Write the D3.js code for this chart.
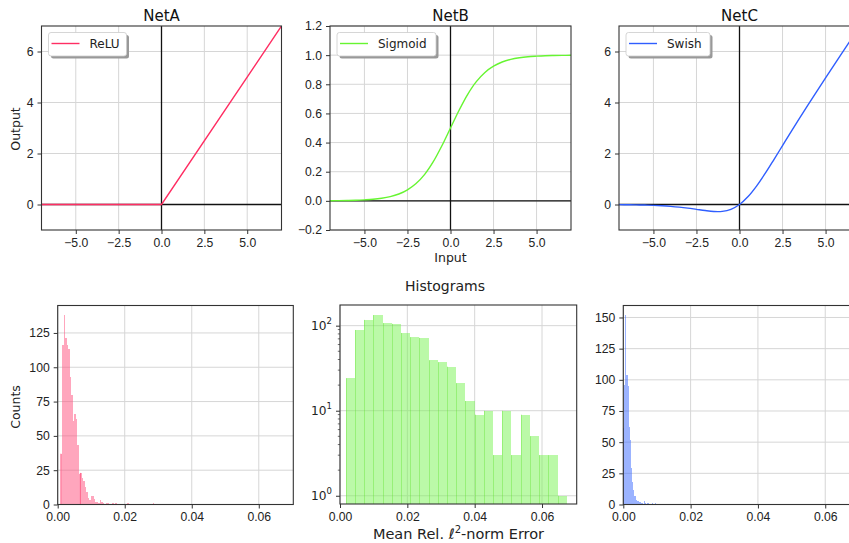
<!DOCTYPE html>
<html>
<head>
<meta charset="utf-8">
<script src="https://cdn.jsdelivr.net/npm/d3@7"></script>
<style>
  body { margin: 0; background: #fff; }
  svg { display: block; font-family: "DejaVu Sans", sans-serif; }
  .tick text { font-size: 12.2px; fill: #222; }
  .tick line { stroke: #333; }
  .domain { display: none; }
</style>
</head>
<body>
<div id="chart"></div>
<script>
// activation curves, values
const reluX = [-7, 0, 7];
const reluY = [0, 0, 7];
const sigX = [-7, -6.5, -6, -5.5, -5, -4.5, -4, -3.5, -3, -2.5, -2, -1.5, -1, -0.5, 0,
  0.5, 1, 1.5, 2, 2.5, 3, 3.5, 4, 4.5, 5, 5.5, 6, 6.5, 7];
const sigY = [0.001, 0.0015, 0.0025, 0.004, 0.007, 0.011, 0.018, 0.029, 0.047, 0.076, 0.119, 0.182, 0.269, 0.378, 0.5,
  0.622, 0.731, 0.818, 0.881, 0.924, 0.953, 0.971, 0.982, 0.989, 0.993, 0.996, 0.9975, 0.9985, 0.999];
const swishX = [-7, -6.5, -6, -5.5, -5, -4.5, -4, -3.5, -3, -2.5, -2, -1.5, -1, -0.5, 0,
  0.5, 1, 1.5, 2, 2.5, 3, 3.5, 4, 4.5, 5, 5.5, 6, 6.5, 7];
const swishY = [-0.006, -0.01, -0.015, -0.022, -0.034, -0.05, -0.072, -0.102, -0.142, -0.19, -0.238, -0.274, -0.269, -0.189, 0,
  0.311, 0.731, 1.226, 1.762, 2.31, 2.858, 3.398, 3.928, 4.45, 4.967, 5.478, 5.985, 6.49, 6.994];

// histogram counts (bin start, bin width, counts per bin)
const histAStart = 0.0009, histAWidth = 0.00045;
const histACounts = [37, 116, 138, 121, 116, 113, 93, 80, 61, 66, 62, 43, 22, 23, 19, 17, 13, 9, 5, 3,
  6, 6, 4, 2, 2, 1, 3, 2, 1, 0, 1, 1, 0, 0, 1, 0, 1, 0, 0, 0, 0, 0, 0, 0, 1, 0, 0, 0, 0, 0,
  0, 0, 0, 0, 0, 0, 0, 0, 0, 0, 0, 1];
const histBStart = 0.0017, histBWidth = 0.002735;
const histBCounts = [24, 89, 117, 133, 107, 105, 82, 73, 72, 39, 37, 33, 21, 13, 9, 10, 3, 10, 3, 9, 5, 3, 3, 1];
const histCStart = 0.00005, histCWidth = 0.0003;
const histCCounts = [61, 96, 152, 104, 95, 62, 52, 29, 18, 12, 7, 7, 4, 3, 3, 2, 2, 1, 1, 0,
  3, 1, 0, 1, 1, 0, 0, 0, 1, 0, 0, 1];

const lineTicksX = [-5, -2.5, 0, 2.5, 5];
const histTicksX = [0, 0.02, 0.04, 0.06];

const W = 849, H = 543;
const svg = d3.select("#chart").append("svg").attr("width", W).attr("height", H);
svg.append("rect").attr("width", W).attr("height", H).attr("fill", "#fff");

let clipId = 0;

function frame(g, x0, x1, y0, y1) {
  g.append("rect")
    .attr("x", x0).attr("y", y0).attr("width", x1 - x0).attr("height", y1 - y0)
    .attr("fill", "none").attr("stroke", "#333").attr("stroke-width", 1.1);
}

function grid(g, x, y, xt, yt, x0, x1, y0, y1) {
  xt.forEach(t => g.append("line").attr("x1", x(t)).attr("x2", x(t)).attr("y1", y0).attr("y2", y1)
    .attr("stroke", "#d6d6d6").attr("stroke-width", 1));
  yt.forEach(t => g.append("line").attr("y1", y(t)).attr("y2", y(t)).attr("x1", x0).attr("x2", x1)
    .attr("stroke", "#d6d6d6").attr("stroke-width", 1));
}

function linePanel(o) {
  const g = svg.append("g");
  const x = d3.scaleLinear().domain([-7, 7]).range([o.x0, o.x1]);
  const y = d3.scaleLinear().domain(o.yDomain).range([o.y1, o.y0]);
  const id = "clip" + (clipId++);
  g.append("clipPath").attr("id", id).append("rect")
    .attr("x", o.x0).attr("y", o.y0).attr("width", o.x1 - o.x0).attr("height", o.y1 - o.y0);

  grid(g, x, y, lineTicksX, o.yTicks, o.x0, o.x1, o.y0, o.y1);

  const inner = g.append("g").attr("clip-path", `url(#${id})`);
  inner.append("line").attr("x1", o.x0).attr("x2", o.x1).attr("y1", y(0)).attr("y2", y(0))
    .attr("stroke", "#111").attr("stroke-width", 1.3);
  inner.append("line").attr("x1", x(0)).attr("x2", x(0)).attr("y1", o.y0).attr("y2", o.y1)
    .attr("stroke", "#111").attr("stroke-width", 1.3);

  const pts = o.xs.map((v, i) => [v, o.ys[i]]);
  inner.append("path")
    .attr("d", d3.line().x(d => x(d[0])).y(d => y(d[1])).curve(o.curve)(pts))
    .attr("fill", "none").attr("stroke", o.color).attr("stroke-width", 1.4);

  g.append("g").attr("transform", `translate(0,${o.y1})`)
    .call(d3.axisBottom(x).tickValues(lineTicksX).tickFormat(d3.format(".1f")).tickSize(4).tickPadding(4));
  g.append("g").attr("transform", `translate(${o.x0},0)`)
    .call(d3.axisLeft(y).tickValues(o.yTicks).tickFormat(o.yFormat).tickSize(4).tickPadding(4));

  frame(g, o.x0, o.x1, o.y0, o.y1);

  g.append("text").attr("x", (o.x0 + o.x1) / 2).attr("y", 21).attr("text-anchor", "middle")
    .attr("font-size", 15).attr("fill", "#111").text(o.title);

  // legend with shadow
  const lx = o.x0 + 7, ly = 32.5, lw = o.legendW, lh = 23.5;
  g.append("rect").attr("x", lx + 2.5).attr("y", ly + 2.5).attr("width", lw).attr("height", lh)
    .attr("rx", 2.5).attr("fill", "#999");
  g.append("rect").attr("x", lx).attr("y", ly).attr("width", lw).attr("height", lh)
    .attr("rx", 2.5).attr("fill", "#fff").attr("stroke", "#ccc").attr("stroke-width", 0.8);
  g.append("line").attr("x1", lx + 3).attr("x2", lx + 31).attr("y1", ly + 11).attr("y2", ly + 11)
    .attr("stroke", o.color).attr("stroke-width", 1.4);
  g.append("text").attr("x", lx + 41).attr("y", ly + 15.5).attr("font-size", 12).attr("fill", "#222")
    .text(o.label);
}

function histPanel(o) {
  const g = svg.append("g");
  const x = d3.scaleLinear().domain([0, 0.0703]).range([o.x0, o.x1]);
  const y = o.log
    ? d3.scaleLog().domain(o.yDomain).range([o.y1, o.y0])
    : d3.scaleLinear().domain(o.yDomain).range([o.y1, o.y0]);

  grid(g, x, y, histTicksX, o.yTicks, o.x0, o.x1, o.y0, o.y1);

  const bins = o.counts.map((c, i) => ({ lo: o.start + i * o.width, hi: o.start + (i + 1) * o.width, c }))
    .filter(d => d.c > 0);
  g.selectAll(null).data(bins).enter().append("rect")
    .attr("x", d => Math.round(x(d.lo)))
    .attr("width", d => Math.max(1, Math.round(x(d.hi)) - Math.round(x(d.lo))))
    .attr("y", d => y(d.c)).attr("height", d => o.y1 - y(d.c))
    .attr("shape-rendering", "crispEdges")
    .attr("fill", o.fill).attr("fill-opacity", 0.5);
  if (o.seam) {
    g.selectAll(null).data(bins).enter().append("line")
      .attr("x1", d => Math.round(x(d.lo)) + 0.5).attr("x2", d => Math.round(x(d.lo)) + 0.5)
      .attr("y1", d => y(d.c)).attr("y2", o.y1)
      .attr("stroke", o.seam).attr("stroke-width", 1).attr("stroke-opacity", 0.35);
  }
  (o.marks || []).forEach(m => {
    g.append("line").attr("x1", x(m[0])).attr("x2", x(m[0])).attr("y1", y(m[1])).attr("y2", o.y1)
      .attr("stroke", o.markColor).attr("stroke-width", 0.9);
  });

  g.append("g").attr("transform", `translate(0,${o.y1})`)
    .call(d3.axisBottom(x).tickValues(histTicksX).tickFormat(d3.format(".2f")).tickSize(4).tickPadding(4));

  if (o.log) {
    const ax = g.append("g").attr("transform", `translate(${o.x0},0)`)
      .call(d3.axisLeft(y).tickValues(o.yTicks).tickFormat("").tickSize(4).tickPadding(4));
    ax.selectAll(".tick text").remove();
    o.yTicks.forEach(t => {
      const tx = g.append("text").attr("x", o.x0 - 8).attr("y", y(t) + 4.5).attr("text-anchor", "end")
        .attr("font-size", 12.2).attr("fill", "#222");
      tx.append("tspan").text("10");
      tx.append("tspan").attr("dy", -6).attr("font-size", 8.5).text(Math.round(Math.log10(t)));
    });
    const minor = [];
    [1, 10, 100].forEach(b => d3.range(2, 10).forEach(k => minor.push(b * k)));
    minor.filter(v => v >= o.yDomain[0] && v <= o.yDomain[1]).forEach(v => {
      g.append("line").attr("x1", o.x0 - 2.2).attr("x2", o.x0).attr("y1", y(v)).attr("y2", y(v))
        .attr("stroke", "#333").attr("stroke-width", 0.7);
    });
  } else {
    g.append("g").attr("transform", `translate(${o.x0},0)`)
      .call(d3.axisLeft(y).tickValues(o.yTicks).tickSize(4).tickPadding(4));
  }

  frame(g, o.x0, o.x1, o.y0, o.y1);
}

linePanel({ x0: 41.5, x1: 281.5, y0: 26, y1: 230, yDomain: [-1, 7], yTicks: [0, 2, 4, 6],
  yFormat: d3.format("d"), xs: reluX, ys: reluY, curve: d3.curveLinear,
  color: "#ff2e63", title: "NetA", label: "ReLU", legendW: 78 });
linePanel({ x0: 330, x1: 571, y0: 26, y1: 230, yDomain: [-0.2, 1.2],
  yTicks: [-0.2, 0, 0.2, 0.4, 0.6, 0.8, 1.0, 1.2], yFormat: d3.format(".1f"),
  xs: sigX, ys: sigY, curve: d3.curveCatmullRom,
  color: "#66f531", title: "NetB", label: "Sigmoid", legendW: 99 });
linePanel({ x0: 619, x1: 860, y0: 26, y1: 230, yDomain: [-1, 7], yTicks: [0, 2, 4, 6],
  yFormat: d3.format("d"), xs: swishX, ys: swishY, curve: d3.curveCatmullRom,
  color: "#2f5eff", title: "NetC", label: "Swish", legendW: 84 });

histPanel({ x0: 57.7, x1: 293.3, y0: 305.5, y1: 504.5, yDomain: [0, 145], yTicks: [0, 25, 50, 75, 100, 125],
  start: histAStart, width: histAWidth, counts: histACounts, fill: "#ff4d7b",
  marks: [[0.00095, 37], [0.00677, 23]], markColor: "#ff5c86" });
histPanel({ x0: 340, x1: 576.7, y0: 305, y1: 504, yDomain: [0.8, 175], yTicks: [1, 10, 100], log: true,
  start: histBStart, width: histBWidth, counts: histBCounts, fill: "#77f351", seam: "#55e020" });
histPanel({ x0: 623.3, x1: 859.9, y0: 305.5, y1: 504.5, yDomain: [0, 159.6], yTicks: [0, 25, 50, 75, 100, 125, 150],
  start: histCStart, width: histCWidth, counts: histCCounts, fill: "#3767ff" });

// shared labels
svg.append("text").attr("transform", "translate(20,129) rotate(-90)").attr("text-anchor", "middle")
  .attr("font-size", 12.5).attr("fill", "#222").text("Output");
svg.append("text").attr("x", 450.5).attr("y", 262).attr("text-anchor", "middle")
  .attr("font-size", 12.5).attr("fill", "#222").text("Input");
svg.append("text").attr("x", 445).attr("y", 290.5).attr("text-anchor", "middle")
  .attr("font-size", 14).attr("fill", "#222").text("Histograms");
svg.append("text").attr("transform", "translate(20,407) rotate(-90)").attr("text-anchor", "middle")
  .attr("font-size", 12.5).attr("fill", "#222").text("Counts");
const xl = svg.append("text").attr("x", 458.5).attr("y", 538.5).attr("text-anchor", "middle")
  .attr("font-size", 14.5).attr("fill", "#222");
xl.append("tspan").text("Mean Rel. ");
xl.append("tspan").text("ℓ");
xl.append("tspan").attr("dy", -6).attr("font-size", 10).text("2");
xl.append("tspan").attr("dy", 6).text("-norm Error");
</script>
</body>
</html>
